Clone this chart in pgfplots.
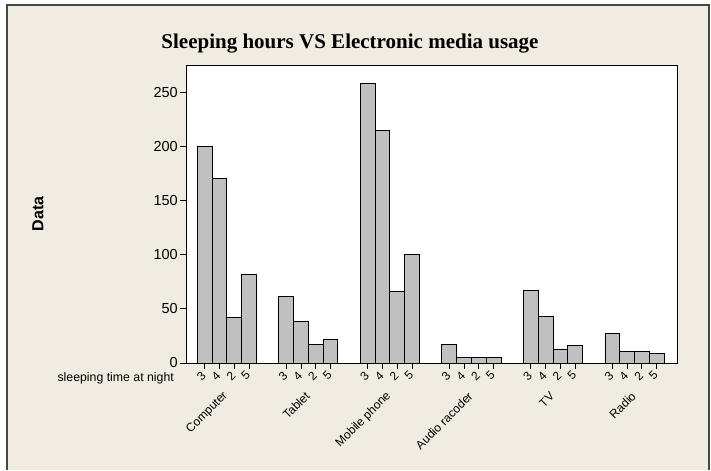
\documentclass[border=0pt]{standalone}
\usepackage{pgfplots}
\pgfplotsset{compat=1.18}
\usepackage{pgfplotstable}
\usepackage{fontspec}
\setmainfont{Liberation Sans}
\newfontfamily\titlefont{Liberation Serif}
\definecolor{bgbeige}{RGB}{240,236,226}
\definecolor{bargray}{RGB}{192,192,192}
\definecolor{framegray}{RGB}{70,70,70}
\pgfplotstableread{
x y
0 200
1 170
2 42
3 82
5.52 61
6.52 38
7.52 17
8.52 22
11.04 258
12.04 215
13.04 66
14.04 100
16.56 17
17.56 5
18.56 5
19.56 5
22.08 67
23.08 43
24.08 13
25.08 16
27.60 27
28.60 11
29.60 11
30.60 9
}\datatable
\begin{document}
\begin{tikzpicture}
\fill[white] (0pt,0pt) rectangle (711pt,470pt);
\fill[bgbeige] (7pt,0pt) rectangle (709pt,465pt);
\draw[framegray, line width=1.5pt] (7pt,0pt) -- (7pt,465pt) -- (709pt,465pt) -- (709pt,0pt);
\begin{axis}[
  name=ax,
  at={(186pt,107pt)}, anchor=south west,
  scale only axis, width=491pt, height=298pt,
  axis background/.style={fill=white},
  xmin=-1.26, xmax=31.98, ymin=0, ymax=275,
  ytick={0,50,100,150,200,250},
  xtick={0,1,2,3,5.52,6.52,7.52,8.52,11.04,12.04,13.04,14.04,16.56,17.56,18.56,19.56,22.08,23.08,24.08,25.08,27.60,28.60,29.60,30.60},
  xticklabels={3,4,2,5,3,4,2,5,3,4,2,5,3,4,2,5,3,4,2,5,3,4,2,5},
  extra x ticks={1.5,7.02,12.54,18.06,23.58,29.1},
  extra x tick labels={Computer,Tablet,Mobile phone,Audio racoder,TV,Radio},
  extra x tick style={major tick length=0pt, xticklabel style={xshift=-19pt, yshift=-19pt}},
  tick align=outside, major tick length=6pt,
  xtick pos=bottom, ytick pos=left,
  xticklabel style={rotate=45, anchor=east, font=\fontsize{12}{14}\selectfont, inner sep=1pt, xshift=-2.5pt, yshift=-2.5pt},
  yticklabel style={font=\fontsize{14.5}{16}\selectfont, inner sep=2pt},
  /pgf/number format/assume math mode=true,
  axis line style={black, line width=0.8pt},
  tick style={black, line width=0.8pt},
  title={\titlefont\bfseries Sleeping hours VS Electronic media usage},
  title style={at={(rel axis cs:0.5,1)}, anchor=center, xshift=-81.5pt, yshift=15pt, font=\fontsize{21}{24}\selectfont},
]
\addplot[ybar, bar width=1, fill=bargray, draw=black, line width=0.8pt] table[x=x,y=y]{\datatable};
\end{axis}
\node[rotate=90, anchor=center, font=\bfseries\fontsize{16}{18}\selectfont] at ([xshift=-148pt]ax.west) {Data};
\node[anchor=east, font=\fontsize{12.3}{14}\selectfont, inner sep=0pt] at ([xshift=-12pt,yshift=-15pt]ax.south west) {sleeping time at night};
\end{tikzpicture}
\end{document}
